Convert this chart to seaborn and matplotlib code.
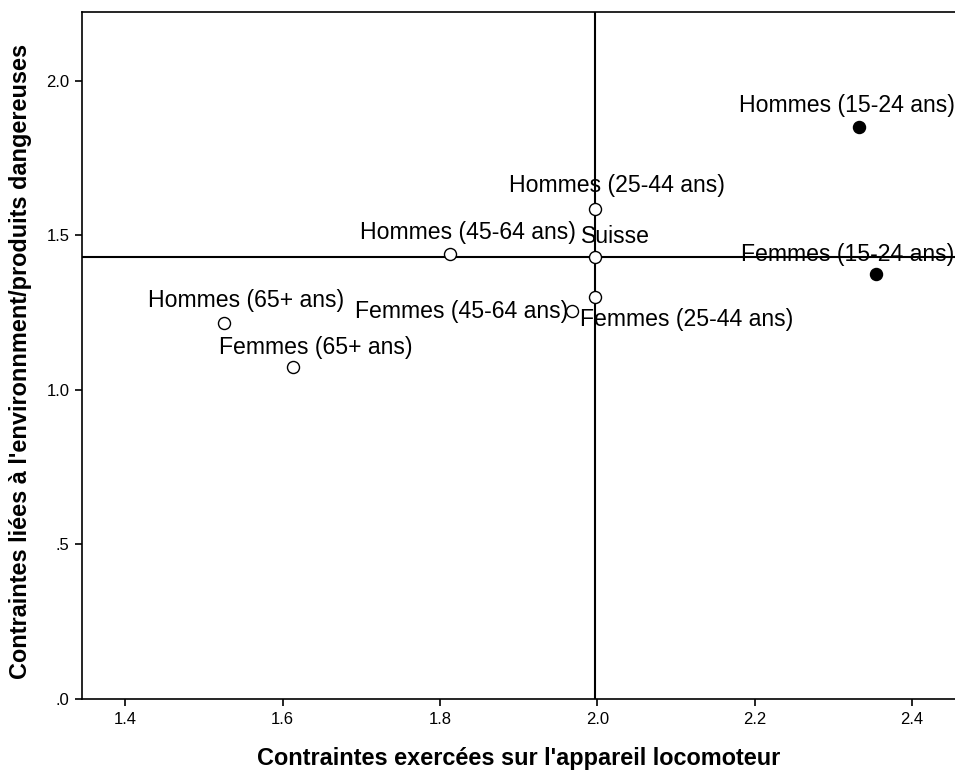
import matplotlib
matplotlib.use("Agg")
import matplotlib.pyplot as plt
import seaborn as sns
import pandas as pd

labels = ["Hommes (15-24 ans)", "Femmes (15-24 ans)", "Hommes (25-44 ans)", "Suisse",
          "Hommes (45-64 ans)", "Femmes (25-44 ans)", "Femmes (45-64 ans)",
          "Hommes (65+ ans)", "Femmes (65+ ans)"]
x_vals = [2.332, 2.354, 1.997, 1.997, 1.813, 1.997, 1.968, 1.526, 1.613]
y_vals = [1.851, 1.375, 1.586, 1.430, 1.440, 1.301, 1.256, 1.217, 1.074]
filled = [True, True, False, False, False, False, False, False, False]
ref_x = 1.997
ref_y = 1.430
x_ticks = [1.4, 1.6, 1.8, 2.0, 2.2, 2.4]
x_ticklabels = ["1.4", "1.6", "1.8", "2.0", "2.2", "2.4"]
y_ticks = [0.0, 0.5, 1.0, 1.5, 2.0]
y_ticklabels = [".0", ".5", "1.0", "1.5", "2.0"]

# label offsets (pixels) and alignment
offsets = {
    "Hommes (15-24 ans)": (-12, 21, "center"),
    "Femmes (15-24 ans)": (-28, 20, "center"),
    "Hommes (25-44 ans)": (22, 23, "center"),
    "Suisse": (21, 21, "center"),
    "Hommes (45-64 ans)": (18, 21, "center"),
    "Femmes (25-44 ans)": (92, -23, "center"),
    "Femmes (45-64 ans)": (-4, -1, "right"),
    "Hommes (65+ ans)": (22, 22, "center"),
    "Femmes (65+ ans)": (23, 20, "center"),
}

sns.set_style("white")
plt.rcParams["font.family"] = ["Liberation Sans", "DejaVu Sans"]
plt.rcParams["axes.labelcolor"] = "black"
plt.rcParams["text.color"] = "black"

df = pd.DataFrame({"label": labels, "x": x_vals, "y": y_vals, "filled": filled})

fig = plt.figure(figsize=(9.55, 7.7), dpi=100)
ax = fig.add_axes([82 / 955, 71 / 770, 1 - 82 / 955, (699 - 12) / 770])

ax.axvline(ref_x, color="black", lw=1.5, zorder=1)
ax.axhline(ref_y, color="black", lw=1.5, zorder=1)

sns.scatterplot(data=df[~df["filled"]], x="x", y="y", ax=ax, s=75,
                facecolor="white", edgecolor="black", linewidth=1.0, zorder=3)
sns.scatterplot(data=df[df["filled"]], x="x", y="y", ax=ax, s=75,
                color="black", edgecolor="black", linewidth=1.0, zorder=3)

for lab, xv, yv in zip(labels, x_vals, y_vals):
    dx, dy, ha = offsets[lab]
    ax.annotate(lab, (xv, yv), xytext=(dx, dy), textcoords="offset pixels",
                ha=ha, va="center", fontsize=16.6, color="black", zorder=4)

ax.set_xlim(1.345, 2.4546)
ax.set_ylim(0, 2.223)
ax.set_xticks(x_ticks)
ax.set_xticklabels(x_ticklabels)
ax.set_yticks(y_ticks)
ax.set_yticklabels(y_ticklabels)
ax.tick_params(axis="both", direction="out", length=5, width=1.2, labelsize=12,
               bottom=True, left=True, colors="black", pad=4)

for side in ["top", "left", "bottom"]:
    ax.spines[side].set_visible(True)
    ax.spines[side].set_color("black")
    ax.spines[side].set_linewidth(1.2)
ax.spines["right"].set_visible(False)

ax.set_xlabel("Contraintes exercées sur l'appareil locomoteur", fontsize=16.9,
              fontweight="bold", color="black", labelpad=15)
ax.set_ylabel("Contraintes liées à l'environnment/produits dangereuses",
              fontsize=16.9, fontweight="bold", color="black")
ax.yaxis.label.set_verticalalignment("center")
ax.yaxis.set_label_coords((21 - 82) / 873, (699 - 361) / 687)

fig.savefig("out.png", dpi=100)
